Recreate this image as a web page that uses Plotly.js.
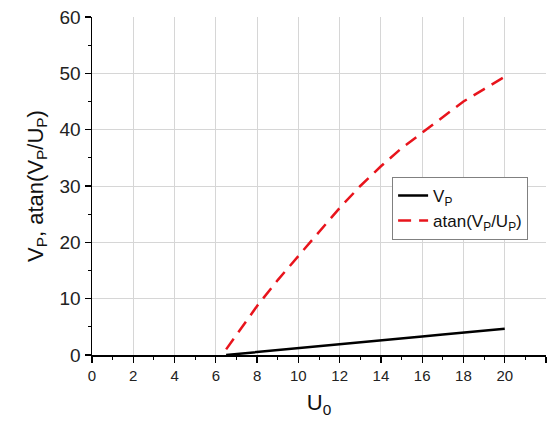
<!DOCTYPE html>
<html>
<head>
<meta charset="utf-8">
<script src="https://cdn.plot.ly/plotly-3.0.1.min.js"></script>
<style>html,body{margin:0;padding:0;background:#fff;}#chart{width:553px;height:421px;}</style>
</head>
<body>
<div id="chart"></div>
<script>
// U0 values
var u0 = [6.5, 7, 8, 9, 10, 11, 12, 13, 14, 15, 16, 17, 18, 19, 20];
// V_P series
var vp = [0, 0.18, 0.53, 0.88, 1.22, 1.56, 1.9, 2.25, 2.6, 2.94, 3.3, 3.63, 3.97, 4.32, 4.66];
// atan(V_P/U_P) series
var atanVU = [1.0, 3.6, 8.7, 13.3, 17.6, 22.0, 26.1, 30.0, 33.5, 36.7, 39.5, 42.3, 45.0, 47.2, 49.4];

var seriesNames = ['V<sub>P</sub>', 'atan(V<sub>P</sub>/U<sub>P</sub>)'];
var xTitle = 'U<sub>0</sub>';
var yTitle = 'V<sub>P</sub>, atan(V<sub>P</sub>/U<sub>P</sub>)';

var FONT = 'Arial, "Liberation Sans", sans-serif';

var traces = [
  {x: u0, y: vp, name: seriesNames[0], mode: 'lines', type: 'scatter',
   line: {color: '#000000', width: 2.5}},
  {x: u0, y: atanVU, name: seriesNames[1], mode: 'lines', type: 'scatter',
   line: {color: '#e8141c', width: 2.5, dash: '13px,8px'}}
];

var layout = {
  width: 553, height: 421,
  margin: {l: 92, r: 7, t: 17, b: 66},
  paper_bgcolor: '#ffffff', plot_bgcolor: '#ffffff',
  font: {family: FONT, color: '#222'},
  showlegend: true,
  legend: {x: 0.661, y: 0.527, xanchor: 'left', yanchor: 'top',
           bgcolor: '#ffffff', bordercolor: '#808080', borderwidth: 1,
           font: {family: FONT, size: 17, color: '#111'},
           tracegroupgap: 0},
  xaxis: {
    range: [0, 22], dtick: 2, tick0: 0,
    showline: true, linecolor: '#000', linewidth: 1.5,
    ticks: 'outside', ticklen: 6, tickwidth: 1.2, tickcolor: '#000',
    showgrid: true, gridcolor: '#d6d6d6', gridwidth: 1,
    zeroline: false,
    tickfont: {family: FONT, size: 15, color: '#222'},
    minor: {dtick: 1, ticks: 'outside', ticklen: 3, tickcolor: '#000', tickwidth: 1, showgrid: false},
    title: {text: xTitle, font: {family: FONT, size: 22, color: '#111'}, standoff: 12}
  },
  yaxis: {
    range: [0, 60], dtick: 10, tick0: 0,
    showline: true, linecolor: '#000', linewidth: 1.5,
    ticks: 'outside', ticklen: 6, tickwidth: 1.2, tickcolor: '#000',
    showgrid: true, gridcolor: '#d6d6d6', gridwidth: 1,
    zeroline: false,
    tickfont: {family: FONT, size: 19, color: '#222'},
    minor: {dtick: 5, ticks: 'outside', ticklen: 3, tickcolor: '#000', tickwidth: 1, showgrid: false},
    title: {text: yTitle, font: {family: FONT, size: 22, color: '#111'}, standoff: 10}
  }
};

Plotly.newPlot('chart', traces, layout, {displayModeBar: false, staticPlot: true});
</script>
</body>
</html>
